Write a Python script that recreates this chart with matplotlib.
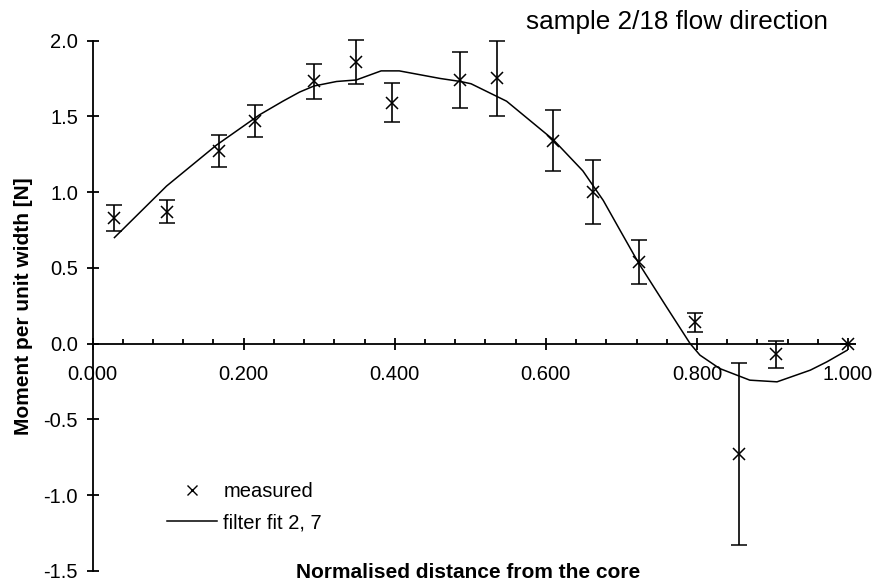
import matplotlib
matplotlib.use("Agg")
from matplotlib import pyplot as plt
from matplotlib.lines import Line2D
from matplotlib.ticker import MultipleLocator, FormatStrFormatter

plt.rcParams['font.family'] = ['Liberation Sans', 'DejaVu Sans']

# measured points with error bars
meas_x = [0.029, 0.098, 0.167, 0.215, 0.293, 0.349, 0.396, 0.487, 0.535,
          0.610, 0.662, 0.723, 0.797, 0.855, 0.904, 1.000]
meas_y = [0.83, 0.87, 1.27, 1.47, 1.73, 1.86, 1.59, 1.74, 1.75,
          1.34, 1.00, 0.54, 0.14, -0.73, -0.07, 0.00]
meas_err = [0.085, 0.077, 0.105, 0.108, 0.114, 0.146, 0.13, 0.185, 0.247,
            0.20, 0.21, 0.145, 0.063, 0.60, 0.088, 0.0]

# filter fit curve
fit_x = [0.029, 0.098, 0.164, 0.221, 0.252, 0.274, 0.293, 0.323, 0.349, 0.382,
         0.406, 0.460, 0.487, 0.501, 0.548, 0.610, 0.649, 0.676, 0.698, 0.723,
         0.760, 0.791, 0.804, 0.830, 0.870, 0.906, 0.950, 0.972, 1.000]
fit_y = [0.70, 1.04, 1.31, 1.51, 1.60, 1.66, 1.70, 1.73, 1.74, 1.80,
         1.80, 1.75, 1.73, 1.715, 1.60, 1.345, 1.14, 0.945, 0.75, 0.53,
         0.24, 0.0, -0.076, -0.164, -0.241, -0.252, -0.175, -0.12, -0.04]

fig = plt.figure(figsize=(8.77, 5.88), dpi=100)
ax = fig.add_axes([0.1055, 0.029, 0.8615, 0.902])

ax.errorbar(meas_x, meas_y, yerr=meas_err, fmt='x', color='black',
            markersize=8, markeredgewidth=1.1, elinewidth=1.2,
            capsize=5.5, capthick=1.2, zorder=3, clip_on=False)
ax.plot(fit_x, fit_y, color='black', lw=1.1, zorder=2)

ax.set_xlim(0, 1.0)
ax.set_ylim(-1.5, 2.0)

for s in ['top', 'right']:
    ax.spines[s].set_visible(False)
ax.spines['bottom'].set_position(('data', 0))
ax.spines['left'].set_linewidth(1.3)
ax.spines['bottom'].set_linewidth(1.3)

ax.xaxis.set_major_locator(MultipleLocator(0.2))
ax.xaxis.set_minor_locator(MultipleLocator(0.04))
ax.xaxis.set_major_formatter(FormatStrFormatter('%.3f'))
ax.yaxis.set_major_locator(MultipleLocator(0.5))
ax.yaxis.set_major_formatter(FormatStrFormatter('%.1f'))

ax.tick_params(axis='x', which='major', direction='inout', length=9,
               width=1.3, labelsize=14.5, pad=11)
ax.tick_params(axis='x', which='minor', direction='in', length=3.5, width=1.3)
ax.tick_params(axis='y', which='major', direction='inout', length=9,
               width=1.3, labelsize=14.5, pad=6)

fig.text(0.027, 0.48, 'Moment per unit width [N]', rotation=90,
         ha='center', va='center', fontsize=15, fontweight='bold')
fig.text(0.534, 0.027, 'Normalised distance from the core',
         ha='center', va='center', fontsize=15, fontweight='bold')
fig.text(0.944, 0.962, 'sample 2/18 flow direction',
         ha='right', va='center', fontsize=18.8)

handles = [Line2D([], [], marker='x', color='black', linestyle='none',
                  markersize=7, markeredgewidth=1.0),
           Line2D([], [], color='black', lw=1.1)]
ax.legend(handles, ['measured', 'filter fit 2, 7'], loc='upper left',
          bbox_to_anchor=(167 / 877, 1 - 482 / 588),
          bbox_transform=fig.transFigure, frameon=False, fontsize=14.5,
          handlelength=2.5, handletextpad=0.3, labelspacing=0.6,
          borderpad=0, borderaxespad=0)

fig.savefig('out.png', dpi=100)
